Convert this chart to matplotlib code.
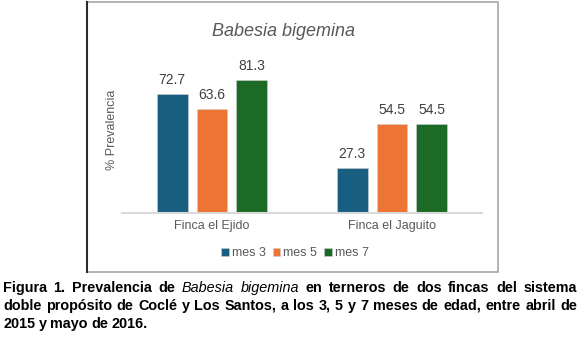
import matplotlib
matplotlib.use("Agg")
import matplotlib.pyplot as plt
import numpy as np
from matplotlib.patches import Rectangle
from matplotlib.lines import Line2D

# Data
fincas = ["Finca el Ejido", "Finca el Jaguito"]
series = ["mes 3", "mes 5", "mes 7"]
mes3 = [72.7, 27.3]
mes5 = [63.6, 54.5]
mes7 = [81.3, 54.5]
colors = ["#175E80", "#EC7434", "#1B6B27"]

plt.rcParams["font.family"] = ["Liberation Sans", "DejaVu Sans"]

W, H = 585, 341
fig = plt.figure(figsize=(W / 100, H / 100), dpi=100)
fig.patch.set_facecolor("white")

def fx(px):
    return px / W

def fy(py):
    return 1 - py / H

# Chart frame
fig.patches.append(Rectangle((fx(87), fy(272)), fx(498) - fx(87), fy(2) - fy(272),
                             transform=fig.transFigure, fill=False,
                             edgecolor="#a6a6a6", linewidth=1.2))
fig.lines.append(Line2D([fx(87), fx(87)], [fy(272), fy(2)], transform=fig.transFigure,
                        color="#2b2b2b", linewidth=1.5))

ax = fig.add_axes([fx(122), fy(213), fx(482) - fx(122), (213 - 66) / H])
x = np.arange(len(fincas))
width = 0.172
step = 0.222
for i, (vals, c, name) in enumerate(zip([mes3, mes5, mes7], colors, series)):
    bars = ax.bar(x + (i - 1) * step, vals, width, color=c, label=name,
                  edgecolor="#d0d0d0", linewidth=0.4)
    for b, v in zip(bars, vals):
        ax.annotate(f"{v:.1f}", (b.get_x() + b.get_width() / 2, v),
                    xytext=(0, 5), textcoords="offset points",
                    ha="center", va="bottom", fontsize=10, color="#404040")

ax.set_xlim(-0.5, 1.5)
ax.set_ylim(0, 90)
ax.set_yticks([])
ax.set_xticks(x)
ax.set_xticklabels(fincas, fontsize=9, color="#595959")
ax.tick_params(axis="x", length=0, pad=5)
for s in ["top", "right", "left"]:
    ax.spines[s].set_visible(False)
ax.spines["bottom"].set_color("#d9d9d9")
ax.spines["bottom"].set_linewidth(1.5)
ax.set_facecolor("none")

fig.text(fx(112), fy(130), "% Prevalencia", rotation=90, ha="center", va="center",
         fontsize=9, color="#595959")
fig.text(fx(284), fy(32), "Babesia bigemina", ha="center", va="center",
         fontsize=13, style="italic", color="#595959")

handles, labels = ax.get_legend_handles_labels()
fig.legend(handles, labels, loc="center", bbox_to_anchor=(fx(295), fy(253)),
           ncol=3, frameon=False, fontsize=9, handlelength=0.6, handleheight=0.6,
           handletextpad=0.25, columnspacing=0.55, labelcolor="#595959")

# Caption, justified across the page width
fig.canvas.draw()
renderer = fig.canvas.get_renderer()
cap_size = 10.4

def place_line(words, y_px, left=3, right=577, justify=True):
    items = []
    for w, st, wt in words:
        t = fig.text(0, fy(y_px), w, fontsize=cap_size, style=st, weight=wt,
                     ha="left", va="baseline", color="black")
        items.append(t)
    widths = [t.get_window_extent(renderer).width for t in items]
    if justify and len(items) > 1:
        gap = (right - left - sum(widths)) / (len(items) - 1)
    else:
        gap = 3.6
    pos = left
    for t, wd in zip(items, widths):
        t.set_x(fx(pos))
        pos += wd + gap

line1 = "Figura 1. Prevalencia de".split() + ["Babesia", "bigemina"] + \
        "en terneros de dos fincas del sistema".split()
words1 = []
for w in line1:
    if w in ("Babesia", "bigemina"):
        words1.append((w, "italic", "normal"))
    else:
        words1.append((w, "normal", "bold"))
line2 = "doble propósito de Coclé y Los Santos, a los 3, 5 y 7 meses de edad, entre abril de".split()
words2 = [(w, "normal", "bold") for w in line2]
line3 = "2015 y mayo de 2016.".split()
words3 = [(w, "normal", "bold") for w in line3]

place_line(words1, 292)
place_line(words2, 310)
place_line(words3, 328, justify=False)

fig.savefig("out.png", dpi=100, facecolor="white")
